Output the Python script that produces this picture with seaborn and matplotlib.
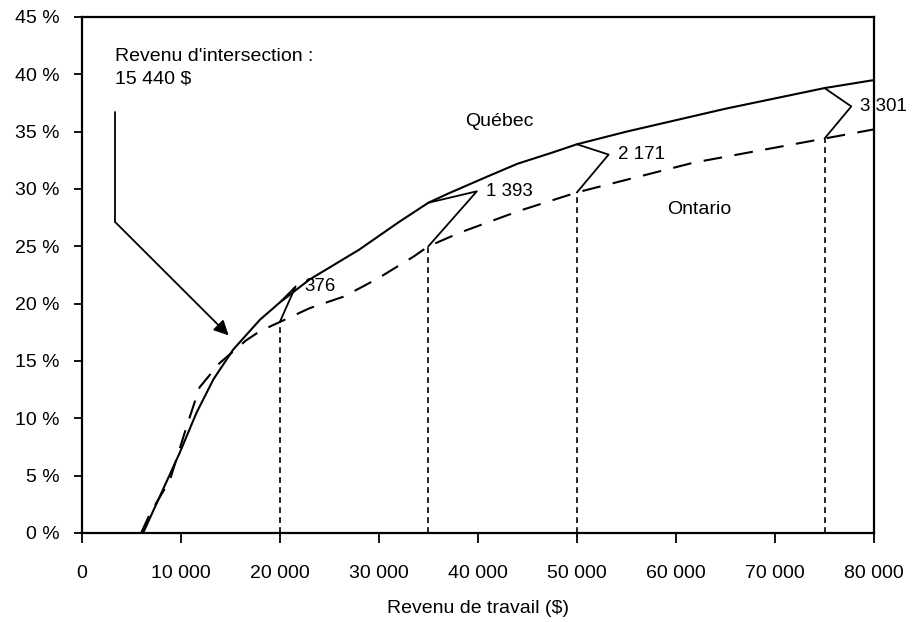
import matplotlib
matplotlib.use("Agg")
import matplotlib.pyplot as plt
import numpy as np
import pandas as pd
import seaborn as sns

# Taux selon le revenu de travail, Québec et Ontario
quebec_x = [6200, 8000, 9900, 11600, 13300, 15300, 18000, 20000, 23000, 28000,
            32000, 35000, 37000, 41000, 44000, 47600, 50000, 55000, 60000,
            65000, 70000, 75000, 80000]
quebec_y = [0.0, 3.4, 7.0, 10.5, 13.4, 16.0, 18.6, 20.1, 22.1, 24.7,
            27.1, 28.8, 29.6, 31.1, 32.2, 33.2, 33.9, 35.0, 36.0,
            37.0, 37.9, 38.8, 39.5]

ontario_x = [6000, 6900, 8900, 10600, 11900, 13900, 16600, 18000, 20000, 23000,
             26400, 28400, 30100, 31800, 33500, 35000, 38200, 44200, 50000,
             61800, 75000, 80000]
ontario_y = [0.0, 1.7, 4.6, 9.3, 12.7, 14.8, 16.8, 17.6, 18.4, 19.6,
             20.6, 21.5, 22.3, 23.2, 24.1, 25.0, 26.2, 28.1, 29.7,
             32.3, 34.4, 35.2]

gap_x = [20000, 35000, 50000, 75000]
gap_labels = ["376", "1 393", "2 171", "3 301"]
gap_apex_x = [21600, 39900, 53200, 77700]
gap_apex_y = [21.5, 29.8, 33.0, 37.2]

intersection_x = 15440
intersection_label = "Revenu d'intersection :\n15 440 $"

x_ticks = [0, 10000, 20000, 30000, 40000, 50000, 60000, 70000, 80000]
x_tick_labels = ["0", "10 000", "20 000", "30 000", "40 000", "50 000", "60 000", "70 000", "80 000"]
y_ticks = [0, 5, 10, 15, 20, 25, 30, 35, 40, 45]
y_tick_labels = [f"{v} %" for v in y_ticks]

sns.set_theme(style="ticks", rc={"text.color": "black", "axes.labelcolor": "black",
                                 "xtick.color": "black", "ytick.color": "black"})
plt.rcParams["font.family"] = ["Liberation Sans", "DejaVu Sans"]

df = pd.concat([
    pd.DataFrame({"revenu": quebec_x, "taux": quebec_y, "province": "Québec"}),
    pd.DataFrame({"revenu": ontario_x, "taux": ontario_y, "province": "Ontario"}),
])

fig = plt.figure(figsize=(9.22, 6.22), dpi=100)
ax = fig.add_axes([0.0886, 0.1431, 0.8594, 0.8296])

sns.lineplot(data=df, x="revenu", y="taux", style="province", color="black",
             dashes={"Québec": "", "Ontario": (9, 6)}, linewidth=1.5,
             legend=False, sort=False, estimator=None, ax=ax)

# pointillés verticaux sous la courbe de l'Ontario
for gx in gap_x:
    top = np.interp(gx, ontario_x, ontario_y)
    ax.plot([gx, gx], [0, top], color="black", lw=1.2, linestyle=(0, (3.5, 2.5)))

# crochets d'écart Québec - Ontario
for gx, lab, axx, ayy in zip(gap_x, gap_labels, gap_apex_x, gap_apex_y):
    q = np.interp(gx, quebec_x, quebec_y)
    o = np.interp(gx, ontario_x, ontario_y)
    ax.plot([gx, axx, gx], [q, ayy, o], color="black", lw=1.3, clip_on=False)
    ax.text(axx + 900, ayy, lab, fontsize=13.5, va="center", ha="left", clip_on=False)

# revenu d'intersection
ix_text, iy_text = 3400, 36.7
ix_corner = 27.1
ix_tip = np.interp(intersection_x, quebec_x, quebec_y)
ax.plot([ix_text, ix_text], [iy_text, ix_corner], color="black", lw=1.3)
ax.annotate("", xy=(intersection_x - 600, ix_tip + 1.1), xytext=(ix_text, ix_corner),
            arrowprops=dict(arrowstyle="-|>", color="black", lw=1.3,
                            mutation_scale=22, shrinkA=0, shrinkB=0))
ax.text(ix_text, 42.3, intersection_label, fontsize=14, va="top", ha="left",
        linespacing=1.4)

ax.text(42200, 35.9, "Québec", fontsize=14, ha="center", va="center")
ax.text(62400, 28.2, "Ontario", fontsize=14, ha="center", va="center")

ax.set_xlim(0, 80000)
ax.set_ylim(0, 45)
ax.set_xticks(x_ticks)
ax.set_xticklabels(x_tick_labels, fontsize=14)
ax.set_yticks(y_ticks)
ax.set_yticklabels(y_tick_labels, fontsize=14)
ax.tick_params(axis="x", length=7, width=1.3, pad=16)
ax.tick_params(axis="y", length=6, width=1.3, pad=10)
ax.set_xlabel("Revenu de travail ($)", fontsize=14, labelpad=13)
ax.set_ylabel("")

for s in ax.spines.values():
    s.set_visible(True)
    s.set_color("black")
    s.set_linewidth(1.6)

fig.savefig("out.png", dpi=100)
